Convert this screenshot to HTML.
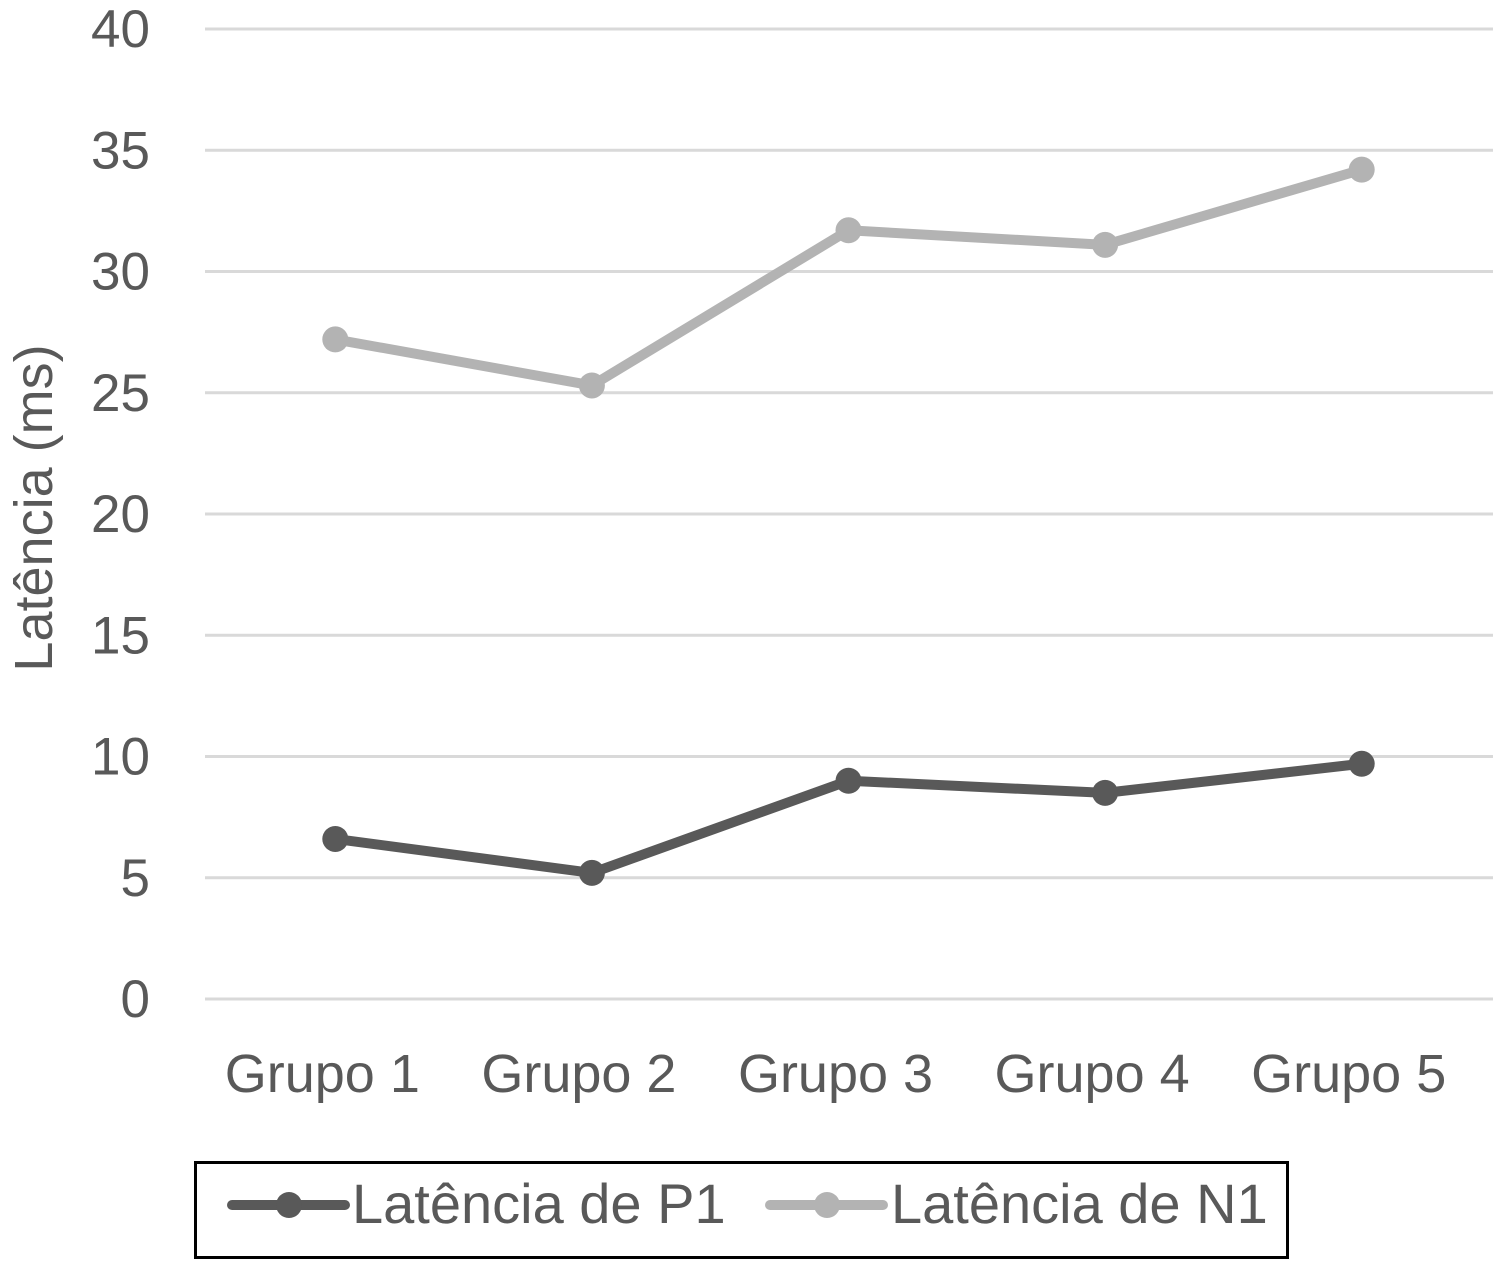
<!DOCTYPE html>
<html><head><meta charset="utf-8"><style>
html,body{margin:0;padding:0;background:#fff;}
svg{display:block;font-family:"Liberation Sans",sans-serif;}
</style></head><body>
<svg id="chart" width="1493" height="1261">
<g id="grid"></g><g id="yticks"></g><g id="xticks"></g><g id="series"></g>
<text transform="translate(52,508) rotate(-90)" text-anchor="middle" font-size="54" fill="#595959">Latência (ms)</text>
<g>
<rect x="195.5" y="1162.5" width="1092" height="95" fill="none" stroke="#000" stroke-width="3"/>
<g>
<line x1="232" y1="1205" x2="345" y2="1205" stroke="#595959" stroke-width="10" stroke-linecap="round"/>
<circle cx="289" cy="1205" r="13" fill="#595959"/>
<text x="352" y="1223" font-size="56" fill="#595959">Latência de P1</text></g>
<g>
<line x1="770" y1="1205" x2="883" y2="1205" stroke="#b3b3b3" stroke-width="10" stroke-linecap="round"/>
<circle cx="827" cy="1205" r="13" fill="#b3b3b3"/>
<text x="891" y="1223" font-size="56" fill="#595959">Latência de N1</text></g>
</g>
</svg>
<script>
const categories=["Grupo 1","Grupo 2","Grupo 3","Grupo 4","Grupo 5"];
const p1Values=[6.6,5.2,9.0,8.5,9.7];
const n1Values=[27.2,25.3,31.7,31.1,34.2];
const yTicks=[0,5,10,15,20,25,30,35,40];
const NS="http://www.w3.org/2000/svg";
const left=207,right=1490,y0=999,y40=29;
const yScale=v=>y0-(v/40)*(y0-y40);
const xScale=i=>left+(i+0.5)*(right-left)/categories.length;
function mk(tag,attrs,parent){const e=document.createElementNS(NS,tag);for(const k in attrs)e.setAttribute(k,attrs[k]);parent.appendChild(e);return e;}
const grid=document.getElementById('grid'),yt=document.getElementById('yticks'),xt=document.getElementById('xticks'),ser=document.getElementById('series');
yTicks.forEach(t=>{
 const l=mk('line',{x1:205,x2:1493,y1:yScale(t),y2:yScale(t),stroke:'#d9d9d9','stroke-width':3},grid);
 
 
 const tx=mk('text',{x:150,y:yScale(t)+18,'text-anchor':'end','font-size':53,fill:'#595959'},yt);
 tx.textContent=t;
 
 
});
categories.forEach((c,i)=>{
 const tx=mk('text',{x:xScale(i)-13,y:1092,'text-anchor':'middle','font-size':54,fill:'#595959'},xt);
 tx.textContent=c;
 
 
});
function drawSeries(vals,color,name){
 const g=mk('g',{},ser);
 
 
 const p=mk('polyline',{points:vals.map((v,i)=>xScale(i)+','+yScale(v)).join(' '),fill:'none',stroke:color,'stroke-width':10,'stroke-linejoin':'round'},g);
 
 
 vals.forEach((v,i)=>{
  const c=mk('circle',{cx:xScale(i),cy:yScale(v),r:13,fill:color},g);
  
  
 });
}
drawSeries(n1Values,'#b3b3b3','series-n1');
drawSeries(p1Values,'#595959','series-p1');
</script>
</body></html>
